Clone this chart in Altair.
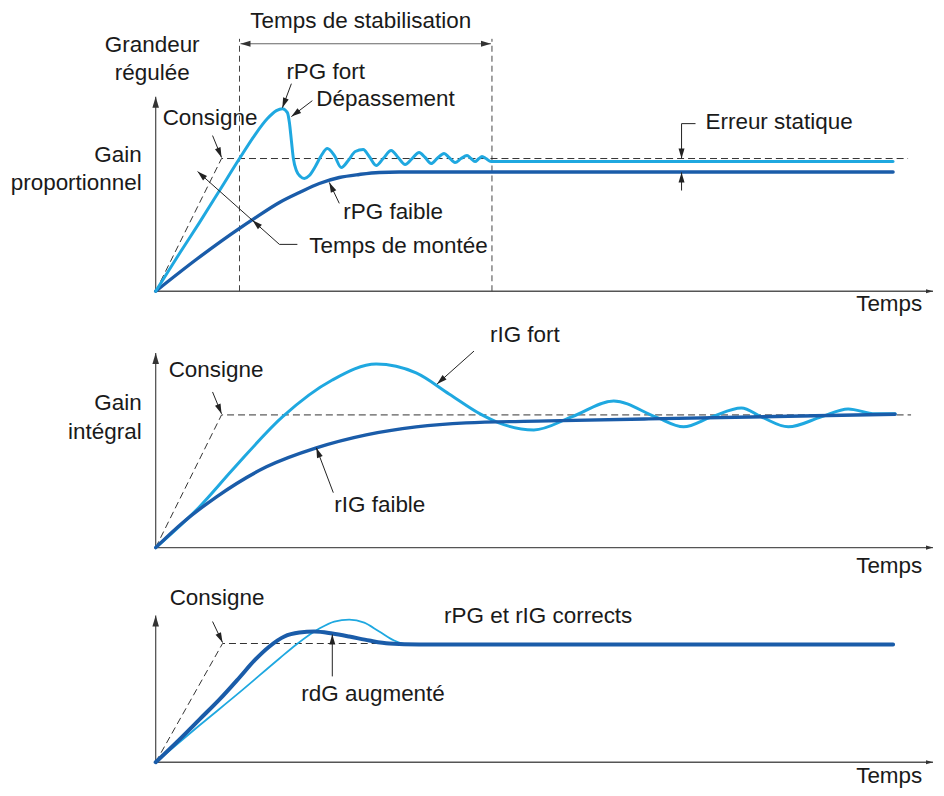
import math
import altair as alt
import pandas as pd

LIGHT = "#1FA8E0"
DARK = "#1A5CA9"
INK = "#1a1a1a"
GREY = "#555555"
FONT = "Liberation Sans"

# Shared time axis (arbitrary units, 0 = step instant); responses in % of the setpoint
T_DOMAIN = [-148, 780]
WIDTH = 928

# ---------------- Panel 1 : Gain proportionnel ----------------
p1_fort_t = [0, 24, 44, 64, 84, 99, 112, 121, 127, 132, 134, 136, 138, 141, 145, 149, 154, 160, 166, 172,
             179, 186, 193, 200, 208, 214, 221, 228, 236, 243, 250, 257, 264, 270, 276, 282, 289, 294, 300,
             306, 312, 316, 320, 324, 327, 331, 336, 739]
p1_fort_v = [0, 28.6, 51.9, 75.9, 100, 117.3, 130.1, 136.1, 137.6, 134.6, 127.1, 113.5, 100, 91.0, 86.5, 85.0,
             87.2, 94.0, 102.3, 107.5, 102.3, 93.2, 98.5, 105.3, 106.8, 101.5, 94.7, 100, 106.0, 100.8, 95.5,
             100, 104.5, 100.8, 96.2, 100, 103.8, 100.8, 97.0, 100, 102.3, 100, 97.7, 100, 101.5, 100, 97.7, 97.7]
p1_faible_t = [0, 41, 84, 99, 124, 144, 164, 184, 204, 224, 244, 739]
p1_faible_v = [0, 24.1, 47.4, 54.9, 66.9, 74.4, 81.2, 85.7, 88.0, 89.5, 89.8, 89.8]
p1_consigne_t = [0, 66, 754]
p1_consigne_v = [0, 100, 100]

# ---------------- Panel 2 : Gain intégral ----------------
p2_fort_t = [0, 44, 77, 127, 177, 221, 261, 294, 327, 344, 379, 417, 459, 501, 529, 557, 587, 607, 634, 667,
             694, 721, 741]
p2_fort_v = [0, 30.8, 58.6, 98.5, 126.3, 138.3, 131.6, 115.8, 100, 94.0, 88.7, 98.5, 110.5, 98.5, 91.0, 98.5,
             105.3, 98.5, 91.0, 98.5, 104.5, 100.8, 100.8]
p2_faible_t = [0, 27, 61, 111, 161, 211, 261, 311, 394, 494, 741]
p2_faible_v = [0, 18.8, 38.3, 60.9, 75.2, 85.0, 91.0, 94.0, 95.5, 97.0, 100.5]
p2_consigne_t = [0, 66, 757]
p2_consigne_v = [0, 100, 100]

# ---------------- Panel 3 : réglage correct ----------------
p3_base_t = [0, 44, 84, 124, 141, 164, 179, 194, 209, 224, 239, 254, 739]
p3_base_v = [0, 31.1, 58.8, 87.4, 99.2, 112.6, 118.5, 120.2, 117.6, 110.1, 102.5, 99.2, 99.2]
p3_rdg_t = [0, 24, 44, 64, 84, 99, 114, 129, 144, 159, 177, 194, 214, 234, 264, 739]
p3_rdg_v = [0, 19.3, 36.1, 52.9, 71.4, 85.7, 97.5, 105.9, 109.2, 110.1, 108.4, 105.9, 102.5, 100, 99.2, 99.2]
p3_consigne_t = [0, 67, 740]
p3_consigne_v = [0, 100, 100]

# ---------------- Labels (text, t, v, align) ----------------
p1_labels = [
    ("Temps de stabilisation", 205.5, 203.8, "center"),
    ("Grandeur", -3.5, 185.7, "center"),
    ("régulée", -3.5, 164.7, "center"),
    ("Consigne", 7, 130.8, "left"),
    ("Gain", -14, 102.3, "right"),
    ("proportionnel", -14, 81.2, "right"),
    ("rPG fort", 131, 165.4, "left"),
    ("Dépassement", 161, 145.1, "left"),
    ("rPG faible", 188, 59.4, "left"),
    ("Temps de montée", 154, 33.8, "left"),
    ("Erreur statique", 551, 127.8, "left"),
    ("Temps", 702, -9.8, "left"),
]
p2_labels = [
    ("Consigne", 13, 133.8, "left"),
    ("Gain", -14, 109.0, "right"),
    ("intégral", -14, 87.2, "right"),
    ("rIG fort", 335, 160.2, "left"),
    ("rIG faible", 179, 32.3, "left"),
    ("Temps", 702, -13.5, "left"),
]
p3_labels = [
    ("Consigne", 14, 138.7, "left"),
    ("rPG et rIG corrects", 289, 123.5, "left"),
    ("rdG augmenté", 146, 57.1, "left"),
    ("Temps", 702, -11.8, "left"),
]

# leader lines (polylines, arrow head at last point)
p1_leaders = [
    [(57, 117.3), (66, 100.8)],
    [(136, 156.4), (127, 138.3)],
    [(157, 143.6), (136, 131.6)],
    [(184, 66.2), (174, 82.0)],
    [(142, 35.3), (124, 35.3), (42, 90.2)],
    [(541, 126.3), (527, 126.3), (527, 100)],
    [(527, 75.9), (527, 89.5)],
]
p1_extra_heads = [((97, 53.4), (124, 35.3))]
p2_leaders = [
    [(57, 117.3), (66, 100.8)],
    [(319, 148.1), (282, 123.3)],
    [(178, 41.4), (161, 75.2)],
]
p3_leaders = [
    [(57, 118.5), (67, 100.8)],
    [(177, 72.3), (177, 107.6)],
]

ARROW = "M0,0L-0.6,2L0.6,2Z"


def head_angle(tip, frm, ky):
    dx = (tip[0] - frm[0]) * (WIDTH / (T_DOMAIN[1] - T_DOMAIN[0]))
    dy = -(tip[1] - frm[1]) * ky
    return math.degrees(math.atan2(dx, -dy)) % 360


def build_panel(curves, consigne, labels, leaders, extra_heads, y_top, vdom, height, stab=None):
    ky = height / (vdom[1] - vdom[0])
    X = alt.X("t:Q", scale=alt.Scale(domain=T_DOMAIN, nice=False, zero=False), axis=None)
    Y = alt.Y("v:Q", scale=alt.Scale(domain=vdom, nice=False, zero=False), axis=None)
    layers = []

    # axes
    axes_rows = [
        {"id": "y", "k": 0, "t": 0, "v": 0}, {"id": "y", "k": 1, "t": 0, "v": y_top},
        {"id": "x", "k": 0, "t": 0, "v": 0}, {"id": "x", "k": 1, "t": T_DOMAIN[1] - 1, "v": 0},
    ]
    layers.append(alt.Chart(pd.DataFrame(axes_rows)).mark_line(color=GREY, strokeWidth=1.3).encode(
        x=X, y=Y, detail="id:N", order="k:Q"))
    ax_heads = pd.DataFrame([
        {"t": 0, "v": y_top, "a": 0.0, "s": 121},
        {"t": T_DOMAIN[1] - 1, "v": 0, "a": 90.0, "s": 49},
    ])
    layers.append(alt.Chart(ax_heads).mark_point(shape=ARROW, filled=True, color="#333333", opacity=1,
                                                 strokeWidth=0).encode(
        x=X, y=Y, angle=alt.Angle("a:Q", scale=None), size=alt.Size("s:Q", scale=None)))

    # stabilisation markers (panel 1)
    if stab is not None:
        t0, t1, vtop, varrow = stab
        vd = pd.DataFrame([
            {"id": "a", "k": 0, "t": t0, "v": 0}, {"id": "a", "k": 1, "t": t0, "v": vtop},
            {"id": "b", "k": 0, "t": t1, "v": 0}, {"id": "b", "k": 1, "t": t1, "v": vtop},
        ])
        layers.append(alt.Chart(vd).mark_line(color="#444444", strokeWidth=1, strokeDash=[6, 4]).encode(
            x=X, y=Y, detail="id:N", order="k:Q"))
        sd = pd.DataFrame([{"k": 0, "t": t0 + 1, "v": varrow}, {"k": 1, "t": t1 - 1, "v": varrow}])
        layers.append(alt.Chart(sd).mark_line(color="#666666", strokeWidth=1.2).encode(x=X, y=Y, order="k:Q"))
        sh = pd.DataFrame([
            {"t": t0 + 1, "v": varrow, "a": 270.0},
            {"t": t1 - 1, "v": varrow, "a": 90.0},
        ])
        layers.append(alt.Chart(sh).mark_point(shape=ARROW, filled=True, color="#333333", size=100, opacity=1,
                                               strokeWidth=0).encode(
            x=X, y=Y, angle=alt.Angle("a:Q", scale=None)))

    # consigne
    cd = pd.DataFrame({"t": consigne[0], "v": consigne[1], "k": range(len(consigne[0]))})
    layers.append(alt.Chart(cd).mark_line(color="#333333", strokeWidth=1, strokeDash=[7, 4]).encode(
        x=X, y=Y, order="k:Q"))

    # curves
    for ts, vs, color, w in curves:
        df = pd.DataFrame({"t": ts, "v": vs})
        layers.append(alt.Chart(df).mark_line(color=color, strokeWidth=w, interpolate="monotone",
                                              strokeCap="round", strokeJoin="round").encode(x=X, y=Y))

    # leaders
    rows, heads = [], []
    for i, pl in enumerate(leaders):
        for k, (t, v) in enumerate(pl):
            rows.append({"id": i, "k": k, "t": t, "v": v})
        heads.append({"t": pl[-1][0], "v": pl[-1][1], "a": head_angle(pl[-1], pl[-2], ky)})
    for tip, frm in extra_heads:
        heads.append({"t": tip[0], "v": tip[1], "a": head_angle(tip, frm, ky)})
    layers.append(alt.Chart(pd.DataFrame(rows)).mark_line(color="#222222", strokeWidth=1).encode(
        x=X, y=Y, detail="id:N", order="k:Q"))
    layers.append(alt.Chart(pd.DataFrame(heads)).mark_point(shape=ARROW, filled=True, color="#222222",
                                                            size=100, opacity=1, strokeWidth=0).encode(
        x=X, y=Y, angle=alt.Angle("a:Q", scale=None)))

    # labels
    ld = pd.DataFrame(labels, columns=["text", "t", "v", "align"])
    for al in ["left", "right", "center"]:
        sub = ld[ld["align"] == al]
        if len(sub):
            layers.append(alt.Chart(sub).mark_text(align=al, baseline="middle", font=FONT, fontSize=22.5,
                                                   color=INK).encode(x=X, y=Y, text="text:N"))

    return alt.layer(*layers).properties(width=WIDTH, height=height)


panel1 = build_panel(
    curves=[(p1_faible_t, p1_faible_v, DARK, 3.4), (p1_fort_t, p1_fort_v, LIGHT, 3.0)],
    consigne=(p1_consigne_t, p1_consigne_v),
    labels=p1_labels, leaders=p1_leaders, extra_heads=p1_extra_heads,
    y_top=146.6, vdom=[-20.3, 212.8], height=310,
    stab=(84, 337, 190.2, 186.5),
)
panel2 = build_panel(
    curves=[(p2_fort_t, p2_fort_v, LIGHT, 3.0), (p2_faible_t, p2_faible_v, DARK, 3.4)],
    consigne=(p2_consigne_t, p2_consigne_v),
    labels=p2_labels, leaders=p2_leaders, extra_heads=[],
    y_top=146.6, vdom=[-22.6, 172.9], height=260,
)
panel3 = build_panel(
    curves=[(p3_base_t, p3_base_v, LIGHT, 1.8), (p3_rdg_t, p3_rdg_v, DARK, 4.0)],
    consigne=(p3_consigne_t, p3_consigne_v),
    labels=p3_labels, leaders=p3_leaders, extra_heads=[],
    y_top=123.5, vdom=[-21.0, 155.5], height=210,
)

chart = alt.vconcat(panel1, panel2, panel3, spacing=0).properties(padding=0).configure_view(stroke=None)
chart.save("out.html", embed_options={"renderer": "svg", "actions": False})
